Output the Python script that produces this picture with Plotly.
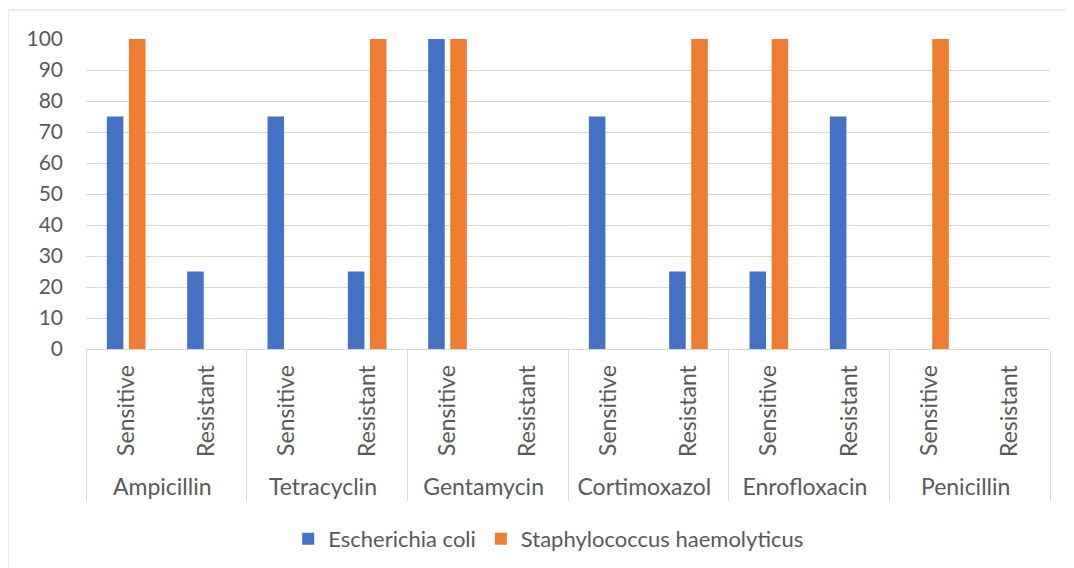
import plotly.graph_objects as go

antibiotics = ["Ampicillin", "Tetracyclin", "Gentamycin", "Cortimoxazol", "Enrofloxacin", "Penicillin"]
outcomes = ["Sensitive", "Resistant"]
ecoli = [75, 25, 75, 25, 100, 0, 75, 25, 25, 75, 0, 0]
staph = [100, 0, 0, 100, 100, 0, 0, 100, 100, 0, 100, 0]
y_ticks = list(range(0, 101, 10))

outer = [a for a in antibiotics for _ in outcomes]
inner = [o for _ in antibiotics for o in outcomes]

FONT = "Lato"
GRAY = "#595959"
GRID = "#d9d9d9"

fig = go.Figure()
fig.add_trace(go.Bar(x=[outer, inner], y=ecoli, name="Escherichia coli",
                     marker=dict(color="#4472C4", line=dict(width=0))))
fig.add_trace(go.Bar(x=[outer, inner], y=staph, name="Staphylococcus haemolyticus",
                     marker=dict(color="#ED7D31", line=dict(width=0))))

fig.update_layout(
    width=1074, height=568,
    margin=dict(l=78, r=32, t=31, b=227),
    paper_bgcolor="white", plot_bgcolor="white",
    barmode="group", bargap=0.45, bargroupgap=0.25,
    font=dict(family=FONT, size=21, color=GRAY),
    showlegend=True,
    legend=dict(orientation="h", x=0.48, xanchor="center", y=-0.545, yanchor="top",
                font=dict(family=FONT, size=22, color=GRAY), itemwidth=30,
                traceorder="normal"),
    xaxis=dict(type="multicategory", tickangle=-90, showline=True, linecolor=GRID,
               linewidth=1, showdividers=True, dividercolor=GRID, dividerwidth=1,
               tickfont=dict(family=FONT, size=23, color=GRAY), ticks="",
               ticklabelstandoff=6),
    yaxis=dict(range=[0, 100], tickvals=y_ticks, showgrid=True, gridcolor=GRID,
               gridwidth=1, zeroline=False, showline=False,
               tickfont=dict(family=FONT, size=21, color=GRAY), ticklabelstandoff=22),
)

fig.add_shape(type="rect", xref="paper", yref="paper", x0=-0.0809, y0=-0.8, x1=1.1, y1=1.0935,
              line=dict(color=GRID, width=1), fillcolor="rgba(0,0,0,0)", layer="below")

fig.write_html("out.html")
